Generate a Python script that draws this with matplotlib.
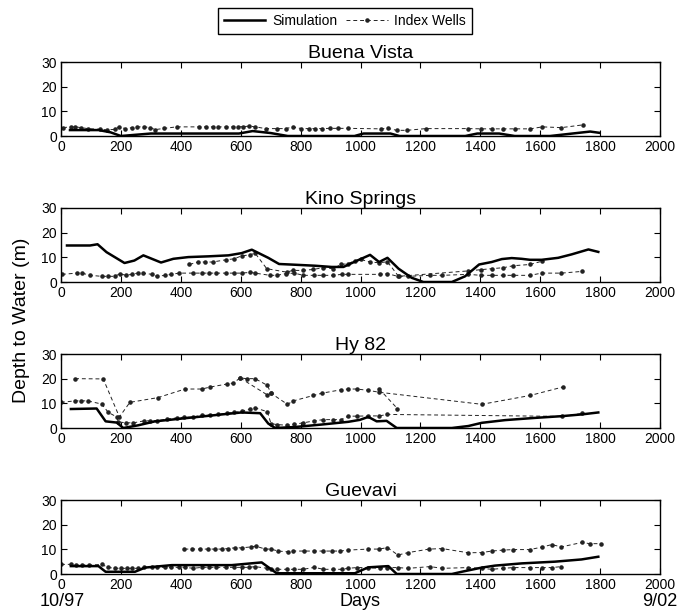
import matplotlib
matplotlib.use('Agg')
from matplotlib import pyplot as plt
from matplotlib import font_manager
from matplotlib.lines import Line2D

names = set(f.name for f in font_manager.fontManager.ttflist)
fam = 'Liberation Sans Narrow' if 'Liberation Sans Narrow' in names else 'Liberation Sans'
plt.rcParams['font.family'] = [fam, 'DejaVu Sans']

# ---- Buena Vista
bv_sim_day = [30, 126, 165, 200, 300, 594, 640, 700, 757, 980, 1010, 1100, 1130, 1350, 1390, 1463, 1515, 1633, 1767, 1797]
bv_sim_val = [2.4, 2.4, 1.5, 0, 1.0, 1.0, 2.0, 1.2, 0, 0, 1.0, 1.0, 0, 0, 1.0, 1.0, 0, 0, 1.8, 1.3]
bv_w1_day = [7, 33, 48, 67, 89, 131, 153, 181, 193, 215, 238, 255, 278, 297, 315, 345, 386, 460, 483, 508,
             524, 552, 575, 591, 609, 628, 649, 683, 720, 750, 775, 802, 827, 849, 872, 898, 924, 958,
             1069, 1091, 1121, 1155, 1218, 1359, 1403, 1440, 1475, 1515, 1567, 1607, 1671, 1742]
bv_w1_val = [3.4, 3.7, 3.7, 3.4, 3.0, 2.7, 2.5, 2.7, 3.7, 3.0, 3.4, 3.7, 3.7, 3.4, 2.6, 3.1, 3.7, 3.7, 3.7, 3.7,
             3.7, 3.7, 3.7, 3.7, 3.8, 4.0, 3.7, 3.0, 3.0, 3.0, 3.7, 3.0, 3.0, 3.0, 3.0, 3.1, 3.1, 3.1,
             2.9, 3.1, 2.3, 2.3, 3.0, 3.0, 2.9, 2.9, 2.9, 2.9, 2.9, 3.7, 3.4, 4.5]

# ---- Kino Springs
ks_sim_day = [20, 97, 122, 152, 212, 245, 275, 334, 375, 425, 492, 559, 603, 637, 692, 728, 781, 848, 904, 943,
              982, 1032, 1062, 1090, 1127, 1171, 1210, 1305, 1349, 1396, 1438, 1472, 1505, 1538, 1566, 1605,
              1660, 1705, 1761, 1794]
ks_sim_val = [14.8, 14.8, 15.3, 12.1, 7.7, 8.7, 10.8, 7.9, 9.4, 10.1, 10.4, 10.8, 11.7, 13.1, 9.8, 7.3, 7.0, 6.6, 6.1, 6.1,
              8.3, 11.0, 8.1, 9.8, 5.4, 1.7, 0, 0, 2.3, 7.1, 8.1, 9.3, 9.7, 9.4, 9.0, 9.0,
              9.8, 11.2, 13.2, 12.2]
ks_w1_day = [3, 53, 71, 97, 136, 156, 180, 197, 216, 236, 256, 275, 303, 319, 347, 367, 394, 442, 470, 494,
             519, 550, 578, 603, 631, 648, 698, 720, 751, 779, 809, 846, 876, 909, 937, 959, 1065, 1090,
             1124, 1160, 1232, 1273, 1360, 1402, 1438, 1477, 1510, 1566, 1605, 1671, 1740]
ks_w1_val = [3.1, 3.6, 3.6, 2.7, 2.3, 2.3, 2.3, 3.4, 2.7, 3.1, 3.6, 3.6, 3.1, 2.3, 2.7, 3.1, 3.6, 3.6, 3.6, 3.6,
             3.6, 3.6, 3.6, 3.6, 3.9, 3.6, 2.7, 2.7, 3.4, 3.6, 2.7, 2.7, 2.7, 2.7, 3.1, 3.1, 3.1, 3.4,
             2.3, 2.3, 2.7, 2.7, 3.1, 2.7, 2.7, 2.7, 2.7, 2.7, 3.6, 3.6, 4.3]
ks_w2_day = [429, 457, 482, 506, 550, 578, 603, 631, 648, 687, 753, 774, 808, 843, 874, 908, 935, 957, 980, 1000,
             1032, 1062, 1090, 1127, 1360, 1402, 1438, 1477, 1510, 1566, 1605]
ks_w2_val = [7.1, 8.1, 8.1, 8.1, 9.0, 9.4, 10.6, 11.0, 11.7, 5.4, 4.0, 4.7, 4.7, 5.1, 5.8, 5.4, 7.1, 7.4, 8.5, 9.2,
             8.1, 7.8, 8.2, 2.3, 4.5, 5.0, 5.4, 5.8, 6.6, 7.1, 8.4]

# ---- Hy 82
hy_sim_day = [33, 119, 149, 186, 208, 258, 314, 425, 537, 603, 665, 692, 715, 781, 870, 959, 998,
              1026, 1054, 1087, 1121, 1305, 1360, 1405, 1483, 1583, 1672, 1738, 1794]
hy_sim_val = [7.7, 7.9, 2.7, 2.2, 0, 1.1, 2.7, 4.1, 5.5, 6.3, 6.0, 1.8, 0, 0.4, 1.4, 2.5, 3.3,
              4.5, 2.7, 2.9, 0, 0, 0.8, 2.1, 3.2, 4.1, 4.8, 5.5, 6.3]
hy_w1_day = [47, 141, 195, 230, 323, 414, 470, 498, 553, 575, 598, 620, 648, 689, 701, 756, 776, 843, 871,
             935, 959, 987, 1024, 1062, 1405, 1567, 1675]
hy_w1_val = [20.0, 19.9, 4.5, 10.4, 12.3, 15.8, 15.8, 16.6, 17.8, 18.2, 20.3, 20.0, 20.0, 17.3, 14.1, 9.6, 11.0, 13.2, 14.1,
             15.5, 15.8, 15.8, 15.3, 14.5, 9.6, 13.2, 16.6]
hy_w2_day = [598, 689, 701]
hy_w2_val = [20.3, 13.4, 14.1]
hy_w3_day = [1062, 1123]
hy_w3_val = [15.9, 7.9]
hy_w4_day = [0, 47, 66, 89, 136, 158, 186, 191, 216, 242, 278, 297, 320, 353, 386, 412, 440, 470, 498, 523,
             553, 579, 603, 631, 648, 689, 701, 720, 756, 779, 809, 846, 876, 909, 935, 959, 987, 1026,
             1062, 1090, 1672, 1740]
hy_w4_val = [10.4, 11.0, 11.0, 11.0, 9.7, 6.3, 4.5, 2.5, 2.1, 2.1, 2.9, 2.9, 2.9, 3.6, 4.1, 4.4, 4.4, 5.2, 5.2, 5.5,
             6.0, 6.3, 6.8, 7.7, 8.2, 6.6, 1.8, 1.4, 1.1, 1.5, 2.1, 2.9, 3.4, 3.4, 3.4, 4.8, 4.8, 4.9,
             4.9, 5.5, 4.7, 5.9]

# ---- Guevavi
gv_sim_day = [33, 125, 149, 247, 281, 370, 570, 670, 720, 981, 1026, 1093, 1121, 1305, 1338, 1405, 1449,
              1538, 1649, 1738, 1794]
gv_sim_val = [3.2, 3.2, 0.9, 0.9, 2.6, 3.6, 3.6, 4.7, 0.3, 0.3, 2.7, 3.2, 0, 0, 0.9, 2.6, 3.4,
              4.3, 5.0, 5.9, 7.0]
gv_w1_day = [412, 437, 465, 490, 514, 536, 556, 580, 603, 636, 650, 682, 701, 725, 757, 776, 812, 846, 876,
             904, 932, 959, 1026, 1062, 1090, 1125, 1160, 1229, 1273, 1360, 1405, 1438, 1477, 1510, 1566,
             1605, 1638, 1671, 1740, 1765, 1804]
gv_w1_val = [10.1, 10.1, 10.1, 10.1, 10.1, 10.1, 10.3, 10.6, 10.6, 11.0, 11.3, 10.1, 10.1, 9.3, 9.0, 9.3, 9.3, 9.3, 9.3,
             9.3, 9.3, 9.7, 10.1, 10.1, 10.7, 7.7, 8.7, 10.1, 10.3, 8.6, 8.7, 9.3, 9.7, 9.9, 9.9,
             10.9, 11.9, 11.0, 12.8, 12.3, 12.3]
gv_w2_day = [0, 33, 49, 69, 95, 136, 156, 180, 199, 219, 236, 258, 278, 303, 319, 347, 367, 394, 414, 442,
             470, 494, 519, 550, 578, 603, 629, 648, 689, 701, 720, 756, 779, 809, 846, 876, 909, 937,
             959, 987, 1026, 1065, 1090, 1124, 1160, 1232, 1273, 1360, 1405, 1438, 1477, 1510, 1566,
             1605, 1638, 1671]
gv_w2_val = [3.9, 3.9, 3.6, 3.6, 3.6, 3.9, 2.7, 2.3, 2.3, 2.3, 2.3, 2.3, 2.7, 3.0, 2.7, 2.7, 2.7, 2.7, 2.7, 2.3,
             2.7, 2.7, 2.7, 2.7, 2.7, 2.7, 2.7, 3.0, 2.3, 1.9, 1.9, 1.9, 1.9, 1.9, 2.7, 1.9, 1.9, 1.9,
             2.3, 2.6, 2.6, 2.3, 2.6, 2.6, 2.3, 3.0, 2.3, 2.6, 2.3, 1.9, 2.3, 2.6, 2.6,
             2.6, 2.6, 3.0]

panels = [
    ('Buena Vista', (bv_sim_day, bv_sim_val), [(bv_w1_day, bv_w1_val)]),
    ('Kino Springs', (ks_sim_day, ks_sim_val), [(ks_w1_day, ks_w1_val), (ks_w2_day, ks_w2_val)]),
    ('Hy 82', (hy_sim_day, hy_sim_val), [(hy_w1_day, hy_w1_val), (hy_w2_day, hy_w2_val),
                                         (hy_w3_day, hy_w3_val), (hy_w4_day, hy_w4_val)]),
    ('Guevavi', (gv_sim_day, gv_sim_val), [(gv_w1_day, gv_w1_val), (gv_w2_day, gv_w2_val)]),
]

W, H = 696, 614
fig = plt.figure(figsize=(W / 100, H / 100), dpi=100)

well_kw = dict(color='#222222', lw=0.7, ls=(0, (4, 3)), marker='.', ms=4.5)
sim_kw = dict(color='black', lw=1.8, solid_joinstyle='round')

left, right = 61, 660
for i, (name, sim, wells) in enumerate(panels):
    top = 62 + 146 * i
    ax = fig.add_axes([left / W, 1 - (top + 74) / H, (right - left) / W, 74 / H])
    for d, v in wells:
        ax.plot(d, v, **well_kw)
    ax.plot(sim[0], sim[1], **sim_kw)
    ax.set_xlim(0, 2000)
    ax.set_ylim(0, 30)
    ax.set_xticks(range(0, 2001, 200))
    ax.set_yticks([0, 10, 20, 30])
    ax.tick_params(direction='in', top=True, right=True, length=4, width=0.8,
                   labelsize=10, pad=3)
    for s in ax.spines.values():
        s.set_linewidth(1.0)
    ax.set_title(name, fontsize=14, pad=3)

fig.text(22 / W, 1 - 320 / H, 'Depth to Water (m)', rotation=90, ha='center', va='center', fontsize=14)
fig.text(62 / W, 1 - 601 / H, '10/97', ha='center', va='center', fontsize=13)
fig.text(360 / W, 1 - 601 / H, 'Days', ha='center', va='center', fontsize=13)
fig.text(660 / W, 1 - 601 / H, '9/02', ha='center', va='center', fontsize=13)

handles = [Line2D([], [], **sim_kw), Line2D([], [], **well_kw)]
leg = fig.legend(handles, ['Simulation', 'Index Wells'], loc='center', ncol=2,
                 bbox_to_anchor=(345 / W, 1 - 21 / H), fancybox=False, fontsize=10,
                 handlelength=3.0, columnspacing=0.6, handletextpad=0.5,
                 borderpad=0.4, edgecolor='black', framealpha=1)
leg.get_frame().set_linewidth(1.0)

fig.savefig('out.png', dpi=100)
